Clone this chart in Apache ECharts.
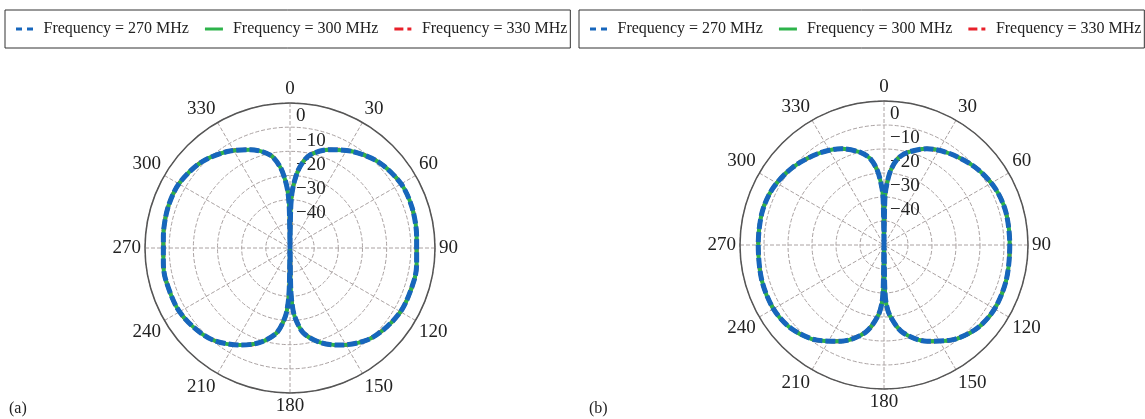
<!DOCTYPE html>
<html>
<head>
<meta charset="utf-8">
<script src="https://cdn.jsdelivr.net/npm/echarts@6/dist/echarts.min.js"></script>
<style>
html,body{margin:0;padding:0;background:#fff;}
#chart{width:1145px;height:419px;}
</style>
</head>
<body>
<div id="chart"></div>
<script>
// ---- data ----
const seriesNames = ['Frequency = 270 MHz', 'Frequency = 300 MHz', 'Frequency = 330 MHz'];
const angleTicks = [0, 30, 60, 90, 120, 150, 180, 210, 240, 270, 300, 330];
const radialTickLabels = [0, -10, -20, -30, -40];
const panelLabels = ['(a)', '(b)'];

// panel (a): angle (deg, clockwise from top) and gain (dB); the three frequencies coincide
const anglesA = [0, 1, 2, 4, 7, 12, 22, 33, 46, 60, 72, 85, 90, 97, 104, 118, 129, 140, 153, 162, 171, 176, 178, 179, 180,
  181, 182, 184, 189, 198, 207, 220, 231, 242, 256, 263, 270, 275, 288, 300, 314, 327, 338, 348, 353, 356, 358, 359, 360];
const gainA270 = [-60, -44, -37.5, -31.9, -26.1, -20.7, -16.1, -12.4, -8.9, -6.9, -6.8, -7.4, -7.6, -7.2, -6.9, -7.1, -8.3, -10.3, -14.9, -18.8, -24.4, -31.4, -37.2, -44, -60,
  -44, -37.2, -31.4, -24.4, -18.8, -14.9, -10.3, -8.3, -7.1, -6.9, -7.2, -7.6, -7.4, -6.8, -6.9, -8.9, -12.4, -16.1, -20.7, -26.1, -31.9, -37.5, -44, -60];
const gainA300 = gainA270.slice();
const gainA330 = gainA270.slice();

// panel (b)
const anglesB = [0, 1, 2, 5, 9, 14, 24, 36, 50, 63, 75, 90, 106, 120, 132, 145, 156, 168, 175, 178, 179, 180,
  181, 182, 185, 192, 204, 215, 228, 240, 254, 270, 285, 297, 310, 324, 336, 346, 351, 355, 358, 359, 360];
const gainB270 = [-60, -42, -36.5, -29, -23.6, -20.3, -16.1, -13.0, -10.0, -8.0, -7.4, -7.6, -7.0, -6.8, -8.0, -11.6, -16.1, -22.8, -30.2, -36, -43, -60,
  -43, -36, -30.2, -22.8, -16.1, -11.6, -8.0, -6.8, -7.0, -7.6, -7.4, -8.0, -10.0, -13.0, -16.1, -20.3, -23.6, -29, -36.5, -42, -60];
const gainB300 = gainB270.slice();
const gainB330 = gainB270.slice();

// ---- chart ----
const FONT = 'Liberation Serif';
const colors = { 270: '#1766bc', 300: '#2db34a', 330: '#e8202a' };

function pairs(angles, gains) {
  return angles.map((a, i) => [gains[i], a]);
}

function makeSeries(pi, angles, g270, g300, g330) {
  return [
    { name: seriesNames[2], type: 'line', coordinateSystem: 'polar', polarIndex: pi, data: pairs(angles, g330),
      symbol: 'none', smooth: 0.3, color: colors[330], lineStyle: { color: colors[330], width: 4, type: [8, 4, 3, 4] } },
    { name: seriesNames[1], type: 'line', coordinateSystem: 'polar', polarIndex: pi, data: pairs(angles, g300),
      symbol: 'none', smooth: 0.3, color: colors[300], lineStyle: { color: colors[300], width: 4 } },
    { name: seriesNames[0], type: 'line', coordinateSystem: 'polar', polarIndex: pi, data: pairs(angles, g270),
      symbol: 'none', smooth: 0.3, color: colors[270], lineStyle: { color: colors[270], width: 5, type: [10, 3] } }
  ];
}

function angleAxis(pi) {
  return {
    polarIndex: pi, type: 'value', min: 0, max: 360, interval: 30, startAngle: 90, clockwise: true,
    axisLine: { lineStyle: { color: '#555', width: 1.5 } },
    axisTick: { show: false },
    splitLine: { lineStyle: { color: '#aaa2a2', width: 1, type: [4, 2] } },
    axisLabel: {
      margin: 4, fontFamily: FONT, fontSize: 19, color: '#222',
      formatter: v => (angleTicks.indexOf(v) >= 0 ? String(v) : '')
    }
  };
}

function radiusAxis(pi) {
  return {
    polarIndex: pi, type: 'value', min: -60, max: 0, interval: 10,
    axisLine: { show: false }, axisTick: { show: false },
    splitLine: { lineStyle: { color: '#aaa2a2', width: 1, type: [4, 2] } },
    axisLabel: {
      margin: -6, align: 'left', verticalAlign: 'top', padding: [4, 0, 0, 0],
      fontFamily: FONT, fontSize: 19, color: '#222',
      formatter: v => (radialTickLabels.indexOf(v) >= 0 ? (v < 0 ? '\u2212' + Math.abs(v) : String(v)) : '')
    }
  };
}

// legend icons: short stroke patterns drawn as filled paths (18 x 3)
const iconDash = 'path://M0,0h6v3h-6z M11,0h6v3h-6z';
const iconSolid = 'path://M0,0h18v3h-18z';
const iconDashDot = 'path://M0,0h9v3h-9z M13,0h4v3h-4z';

function legend(left) {
  return {
    left: left, top: 10, width: 620, orient: 'horizontal',
    padding: [11, 3, 11, 11], itemWidth: 18, itemHeight: 3, itemGap: 16,
    borderColor: '#333', borderWidth: 1,
    textStyle: { fontFamily: FONT, fontSize: 16, color: '#222', padding: [0, 0, 0, 5] },
    data: [
      { name: seriesNames[0], icon: iconDash, itemStyle: { color: colors[270] } },
      { name: seriesNames[1], icon: iconSolid, itemStyle: { color: colors[300] } },
      { name: seriesNames[2], icon: iconDashDot, itemStyle: { color: colors[330] } }
    ]
  };
}

const chart = echarts.init(document.getElementById('chart'));
chart.setOption({
  animation: false,
  backgroundColor: '#fff',
  title: [
    { text: panelLabels[0], left: 4, top: 396, textStyle: { fontFamily: FONT, fontSize: 16, fontWeight: 'normal', color: '#222' } },
    { text: panelLabels[1], left: 584, top: 396, textStyle: { fontFamily: FONT, fontSize: 16, fontWeight: 'normal', color: '#222' } }
  ],
  legend: [legend(5), legend(579)],
  polar: [
    { center: [290, 248], radius: 145 },
    { center: [884, 245], radius: 144 }
  ],
  angleAxis: [angleAxis(0), angleAxis(1)],
  radiusAxis: [radiusAxis(0), radiusAxis(1)],
  series: [].concat(
    makeSeries(0, anglesA, gainA270, gainA300, gainA330),
    makeSeries(1, anglesB, gainB270, gainB300, gainB330)
  )
});
</script>
</body>
</html>
